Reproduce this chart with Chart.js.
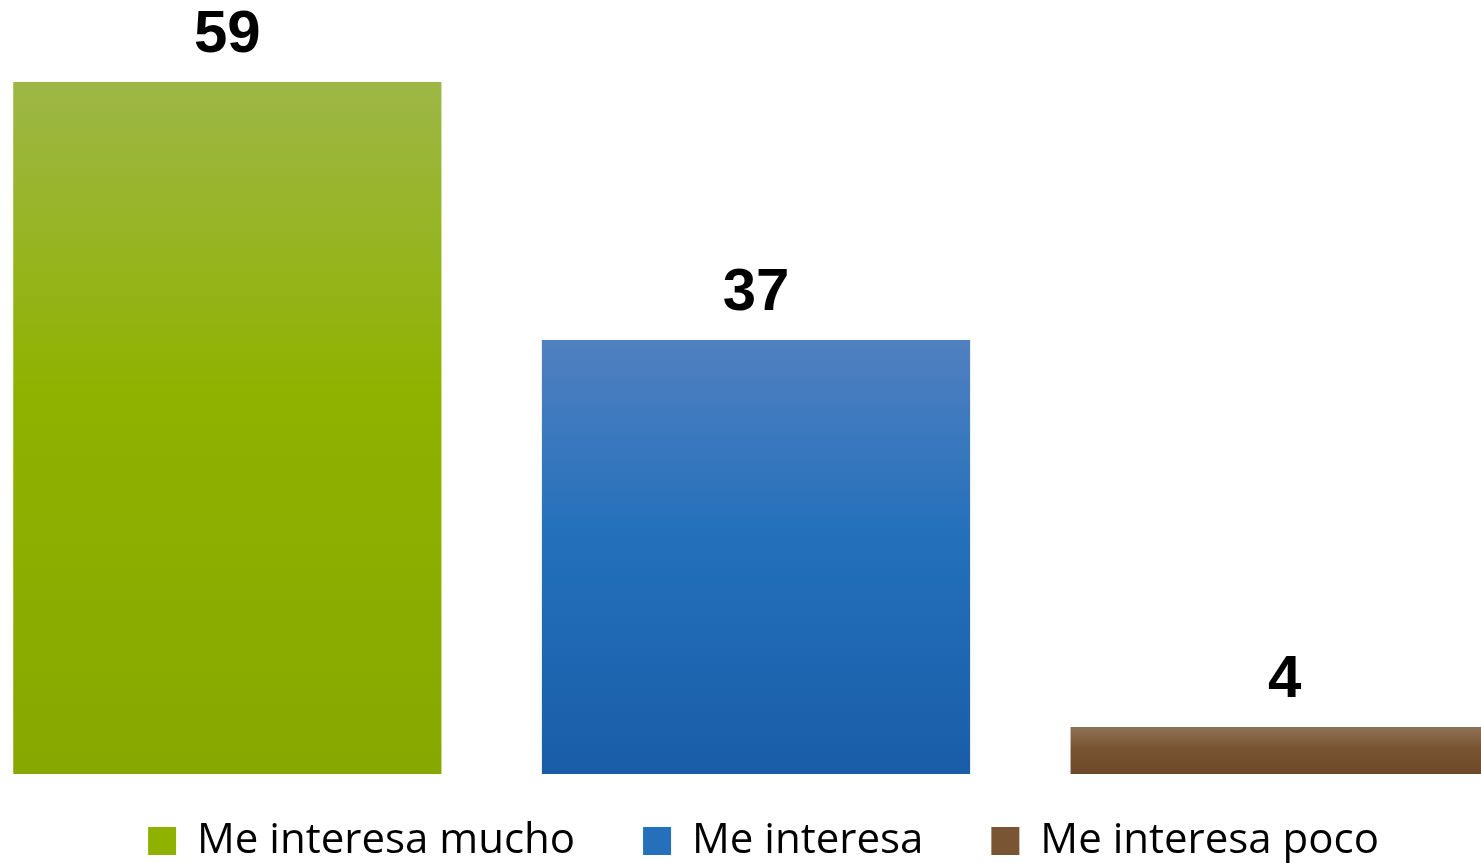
<!DOCTYPE html>
<html>
<head>
<meta charset="utf-8">
<script src="https://cdn.jsdelivr.net/npm/chart.js@4"></script>
<style>
  html, body { margin: 0; padding: 0; background: #fff; overflow: hidden; }
  #wrap { position: absolute; left: -37px; top: 0; width: 1586px; height: 863px; }
</style>
</head>
<body>
<div id="wrap"><canvas id="chartBar"></canvas></div>
<script>
var categories = ["Me interesa mucho", "Me interesa", "Me interesa poco"];
var values = [59, 37, 4];
// top, middle, bottom colour of each bar's gradient
var topColors = ["#9db746", "#5080c0", "#8f7256"];
var midColors = ["#8fb200", "#2470bb", "#7a5533"];
var bottomColors = ["#87a800", "#195da8", "#6e4929"];

function barGradient(context) {
    var chart = context.chart;
    var i = context.dataIndex;
    if (!chart.chartArea || !chart.scales.y) return midColors[i];
    var y = chart.scales.y;
    var top = y.getPixelForValue(values[i]);
    var bottom = y.getPixelForValue(0);
    var g = chart.ctx.createLinearGradient(0, top, 0, bottom);
    g.addColorStop(0, topColors[i]);
    g.addColorStop(0.45, midColors[i]);
    g.addColorStop(1, bottomColors[i]);
    return g;
}

var valueLabels = {
    id: "valueLabels",
    afterDatasetsDraw: function (chart) {
        var ctx = chart.ctx;
        var meta = chart.getDatasetMeta(0);
        ctx.save();
        ctx.font = "bold 60px 'Liberation Sans'";
        ctx.fillStyle = "#000";
        ctx.textAlign = "center";
        ctx.textBaseline = "bottom";
        meta.data.forEach(function (bar, i) {
            ctx.fillText(values[i], bar.x, bar.y - 17);
        });
        ctx.restore();
    },
};

// legend: keep wide gaps between items but a shorter box, drawn a bit higher
var legendFit = {
    id: "legendFit",
    beforeInit: function (chart) {
        var fit = chart.legend.fit;
        chart.legend.fit = function () {
            fit.bind(chart.legend)();
            this.height = 89;
        };
    },
    afterLayout: function (chart) {
        var lg = chart.legend;
        lg.top -= 22;
        lg.left += 7.5;
        lg.right += 7.5;
    },
};

const ctx = document.getElementById("chartBar");
new Chart(ctx, {
    type: "bar",
    data: {
        labels: categories,
        datasets: [
            {
                data: values,
                backgroundColor: barGradient,
                barPercentage: 0.81,
                categoryPercentage: 1,
            },
        ],
    },
    options: {
        responsive: true,
        maintainAspectRatio: false,
        animation: false,
        layout: { padding: 0 },
        plugins: {
            tooltip: { enabled: false },
            legend: {
                display: true,
                position: "bottom",
                align: "center",
                labels: {
                    boxWidth: 28,
                    boxHeight: 28,
                    padding: 68,
                    color: "#000",
                    font: { size: 42, family: "'Open Sans'" },
                    generateLabels: function (chart) {
                        return categories.map(function (c, i) {
                            return {
                                text: c,
                                fillStyle: midColors[i],
                                strokeStyle: midColors[i],
                                lineWidth: 0,
                                hidden: false,
                                index: i,
                            };
                        });
                    },
                },
            },
        },
        scales: {
            x: { display: false },
            y: { display: false, min: 0, max: 66 },
        },
    },
    plugins: [valueLabels, legendFit],
});
</script>
</body>
</html>
